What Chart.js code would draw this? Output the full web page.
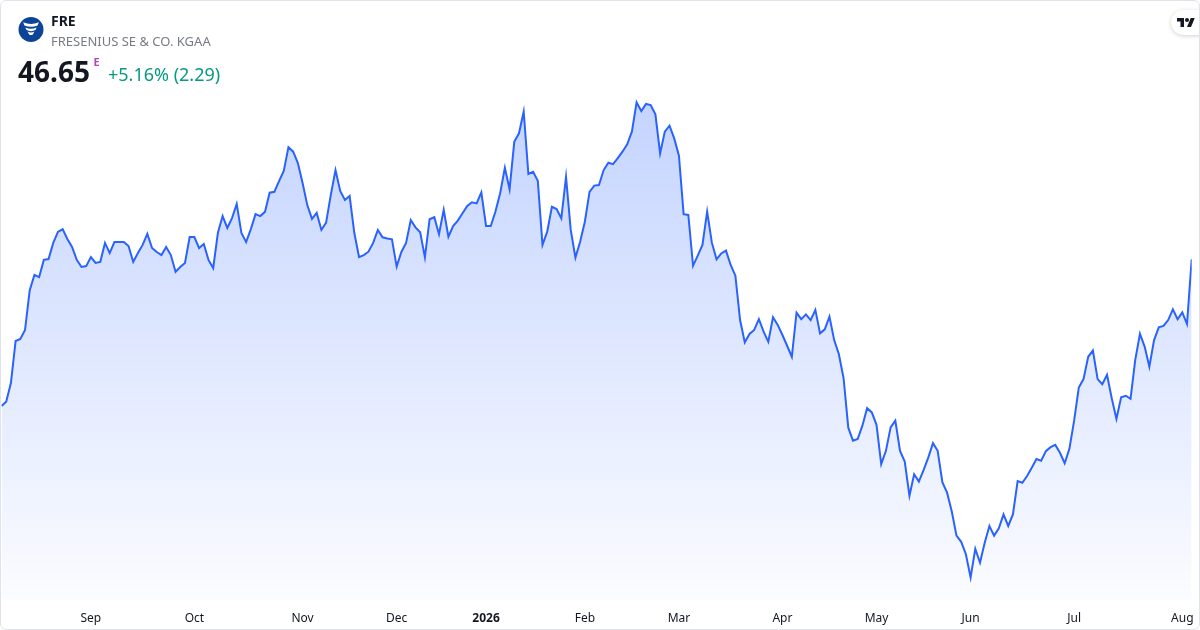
<!DOCTYPE html>
<html>
<head>
<meta charset="utf-8">
<script src="https://cdn.jsdelivr.net/npm/chart.js@4.4.1/dist/chart.umd.min.js"></script>
<style>
  html, body { margin: 0; padding: 0; background: #ffffff; }
  #card { position: relative; width: 1200px; height: 630px; box-sizing: border-box; border: 1px solid #e0e3eb; border-radius: 6px; overflow: hidden; font-family: 'Noto Sans', sans-serif; }
  #wrap { position: absolute; left: -1px; top: -1px; width: 1200px; height: 630px; }
  .t { position: absolute; line-height: 1; white-space: nowrap; }
  #tv { position: absolute; left: 1170px; top: 9px; width: 50px; height: 25px; border-radius: 12.5px; background: #fff; box-shadow: 0 1px 4px rgba(0,0,0,0.18); }
</style>
</head>
<body>
<div id="card">
  <div id="wrap"><canvas id="c"></canvas></div>
  <svg style="position:absolute;left:-1px;top:-1px" width="60" height="60">
    <circle cx="31" cy="29.5" r="12.5" fill="#0c4597"/>
    <path d="M23.2 22.3 Q31 25.6 38.8 22.3 L37.6 25.4 Q31 28.2 24.4 25.4 Z" fill="#fff"/>
    <path d="M25.4 27.4 Q31 29.9 36.6 27.4 L35.5 30.1 Q31 32.2 26.5 30.1 Z" fill="#fff"/>
    <path d="M27.6 31.6 Q31 33.5 34.4 31.6 L32.9 34.6 Q31 35.6 29.1 34.6 Z" fill="#fff"/>
  </svg>
  <div class="t" style="left:50px;top:12.6px;font-size:14px;font-weight:700;color:#131722;">FRE</div>
  <div class="t" style="left:50px;top:33.5px;font-size:13px;color:#787b86;">FRESENIUS SE &amp; CO. KGAA</div>
  <div class="t" style="left:17px;top:55.8px;font-size:28px;font-weight:700;color:#131722;">46.65</div>
  <div class="t" style="left:92.5px;top:54.5px;font-size:11px;font-weight:700;color:#ab47bc;">E</div>
  <div class="t" style="left:107px;top:64.3px;font-size:18px;color:#089981;">+5.16% (2.29)</div>
  <div id="tv">
    <svg style="position:absolute;left:6px;top:8px" width="18" height="9" viewBox="0 4 36 18">
      <path d="M14 22H7V11H0V4h14v18z" fill="#131722"/>
      <circle cx="20" cy="8" r="4" fill="#131722"/>
      <path d="M28 22h-8l7.5-18h8L28 22z" fill="#131722"/>
    </svg>
  </div>
</div>
<script>
// Daily closing prices (EUR), 5 Aug 2025 .. 5 Aug 2026
const prices = [
41.46,41.61,42.27,43.76,43.83,44.15,45.56,46.10,46.02,46.63,46.66,47.23,47.62,47.72,47.37,47.09,46.63,46.38,46.41,46.73,46.52,46.56,47.23,46.87,47.26,47.26,47.26,47.12,46.56,46.87,47.16,47.55,
47.05,46.91,46.80,47.09,46.80,46.21,46.38,46.52,47.44,47.44,47.05,47.19,46.63,46.34,47.59,48.18,47.76,48.11,48.61,47.58,47.26,47.72,48.25,48.18,48.33,49.01,49.04,49.42,49.78,50.62,50.46,50.06,
49.35,48.57,48.08,48.29,47.69,47.95,48.93,49.81,49.07,48.75,48.89,47.58,46.73,46.80,46.92,47.23,47.69,47.43,47.39,47.36,46.39,46.91,47.23,48.04,47.78,47.61,46.72,48.07,48.14,47.54,48.40,47.45,
47.83,48.02,48.28,48.54,48.67,48.63,49.02,47.83,47.83,48.34,48.99,49.89,49.13,50.81,51.11,51.88,49.67,49.75,49.43,47.16,47.63,48.51,48.43,48.10,49.57,47.69,46.71,47.27,47.98,49.04,49.26,49.28,
49.81,50.07,50.02,50.23,50.46,50.72,51.17,52.21,51.90,52.15,52.11,51.78,50.40,51.17,51.38,50.93,50.32,48.25,48.22,46.42,46.78,47.16,48.34,47.24,46.65,46.86,46.96,46.45,46.07,44.50,43.71,44.01,
44.15,44.53,44.09,43.73,44.60,44.33,43.97,43.59,43.20,44.76,44.53,44.70,44.50,44.86,44.03,44.17,44.62,43.79,43.29,42.44,40.69,40.23,40.29,40.76,41.38,41.23,40.79,39.40,39.87,40.70,40.94,39.87,
39.49,38.28,39.04,38.78,39.19,39.63,40.14,39.87,38.76,38.39,37.72,36.87,36.65,36.21,35.39,36.40,35.91,36.62,37.21,36.87,37.13,37.62,37.21,37.62,38.80,38.74,38.98,39.27,39.58,39.52,39.86,40.00,
40.08,39.80,39.43,39.94,40.93,42.11,42.41,43.20,43.42,42.41,42.23,42.56,41.73,41.00,41.77,41.82,41.71,43.09,44.01,43.56,42.85,43.79,44.24,44.29,44.50,44.88,44.53,44.77,44.36,46.65
];
// Month tick labels and the trading-day index of the first session of each month
const tickLabels = ["Sep","Oct","Nov","Dec","2026","Feb","Mar","Apr","May","Jun","Jul","Aug"];
const tickIndex  = [19, 41, 64, 84, 103, 124, 144, 166, 186, 206, 228, 251];

const points = prices.map((v, i) => ({ x: i, y: v }));

Chart.defaults.font.family = "'Noto Sans', sans-serif";

new Chart(document.getElementById('c'), {
  type: 'line',
  data: {
    datasets: [{
      data: points,
      borderColor: '#2962ff',
      borderWidth: 2,
      pointRadius: 0,
      tension: 0,
      fill: 'start',
      backgroundColor: (ctx) => {
        const a = ctx.chart.chartArea;
        if (!a) return 'rgba(41,98,255,0.15)';
        const g = ctx.chart.ctx.createLinearGradient(0, a.top, 0, a.bottom);
        g.addColorStop(0, 'rgba(41,98,255,0.28)');
        g.addColorStop(1, 'rgba(41,98,255,0.02)');
        return g;
      }
    }]
  },
  options: {
    responsive: true,
    maintainAspectRatio: false,
    animation: false,
    layout: { padding: { left: 1.5, right: 8.3, top: 90, bottom: 0 } },
    plugins: { legend: { display: false }, tooltip: { enabled: false } },
    scales: {
      x: {
        type: 'linear',
        min: 0,
        max: prices.length - 1,
        grid: { display: false },
        border: { display: false },
        afterBuildTicks: (scale) => { scale.ticks = tickIndex.map(v => ({ value: v })); },
        afterFit: (scale) => { scale.height = 30; scale.paddingLeft = 0; scale.paddingRight = 0; },
        ticks: {
          autoSkip: false,
          maxRotation: 0,
          padding: 3,
          color: '#131722',
          font: (ctx) => ({ size: 12, weight: tickLabels[ctx.index] === '2026' ? 'bold' : 'normal' }),
          callback: (v) => { const k = tickIndex.indexOf(v); return k >= 0 ? tickLabels[k] : ''; }
        }
      },
      y: {
        display: false,
        min: 34.59,
        max: 52.644
      }
    }
  }
});
</script>
</body>
</html>
